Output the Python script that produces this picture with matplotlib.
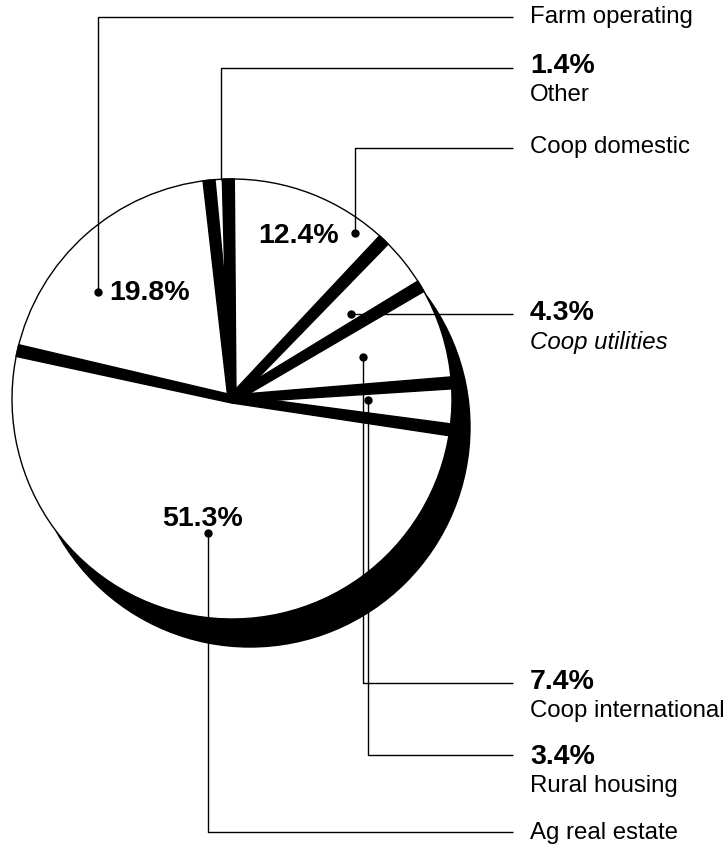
import numpy as np
import matplotlib.pyplot as plt
from matplotlib.patches import Circle, Polygon

plt.rcParams['font.family'] = ['Liberation Sans', 'DejaVu Sans']

# slices, clockwise from the top
categories = ['Other', 'Coop domestic', 'Coop utilities', 'Coop international',
              'Rural housing', 'Ag real estate', 'Farm operating']
shares = [1.4, 12.4, 4.3, 7.4, 3.4, 51.3, 19.8]

# which labels carry the number next to the name, which carry it inside the pie
label_has_pct = [True, False, True, True, True, False, False]
inside_pct = ['Coop domestic', 'Farm operating', 'Ag real estate']

W, H = 727, 852
cx, cy, R = 232, 399, 220

fig = plt.figure(figsize=(W / 100, H / 100), dpi=100)
ax = fig.add_axes([0, 0, 1, 1])

# drop shadow
ax.add_patch(Circle((cx + 18, cy + 28), R, color='black', zorder=1))

# y axis runs downward, so counterclock in data = clockwise on screen
wedges, _ = ax.pie(shares, center=(cx, cy), radius=R, startangle=-96,
                   counterclock=True, colors=['white'] * len(shares),
                   wedgeprops=dict(edgecolor='black', linewidth=1, zorder=2))

# black tapered gaps between slices
w_in, w_out = 8, 12
for w in wedges:
    phi = np.deg2rad(w.theta1)
    u = np.array([np.cos(phi), np.sin(phi)])
    n = np.array([-np.sin(phi), np.cos(phi)])
    c = np.array([cx, cy])
    pts = [c + n * w_in / 2, c + u * R + n * w_out / 2,
           c + u * R - n * w_out / 2, c - n * w_in / 2]
    ax.add_patch(Polygon(pts, closed=True, color='black', zorder=3))

# leader lines: anchor dot -> elbow -> end at label column
leaders = {
    'Farm operating': [(98, 292), (98, 17), (513, 17)],
    'Other': [(221, 180), (221, 68), (513, 68)],
    'Coop domestic': [(355, 233), (355, 148), (513, 148)],
    'Coop utilities': [(351, 314), (513, 314)],
    'Coop international': [(363, 357), (363, 683), (513, 683)],
    'Rural housing': [(368, 400), (368, 755), (513, 755)],
    'Ag real estate': [(208, 533), (208, 832), (513, 832)],
}
for name, pts in leaders.items():
    xs, ys = zip(*pts)
    ax.plot(xs, ys, color='black', lw=1, zorder=4, solid_capstyle='butt')
    if name != 'Other':
        ax.plot(xs[0], ys[0], 'o', color='black', ms=5, zorder=5)

# right-hand labels
label_y = {
    'Farm operating': 17, 'Other': 66, 'Coop domestic': 147,
    'Coop utilities': 313, 'Coop international': 682,
    'Rural housing': 757, 'Ag real estate': 833,
}
tx = 530
for name, share, has_pct in zip(categories, shares, label_has_pct):
    y = label_y[name]
    style = 'italic' if name == 'Coop utilities' else 'normal'
    if has_pct:
        ax.text(tx, y, f'{share}%', fontsize=20.5, fontweight='bold',
                va='center', ha='left', zorder=6)
        ax.text(tx, y + 29, name, fontsize=17.3, style=style,
                va='center', ha='left', zorder=6)
    else:
        ax.text(tx, y, name, fontsize=17.3, va='center', ha='left', zorder=6)

# percentages inside the pie
inside_pos = {'Coop domestic': (299, 236), 'Farm operating': (150, 293),
              'Ag real estate': (203, 519)}
for name, share in zip(categories, shares):
    if name in inside_pct:
        x, y = inside_pos[name]
        ax.text(x, y, f'{share}%', fontsize=20.5, fontweight='bold',
                ha='center', va='center', zorder=6)

ax.set_xlim(0, W)
ax.set_ylim(H, 0)
ax.set_aspect('equal')
ax.axis('off')

fig.savefig('out.png', dpi=100, facecolor='white')
